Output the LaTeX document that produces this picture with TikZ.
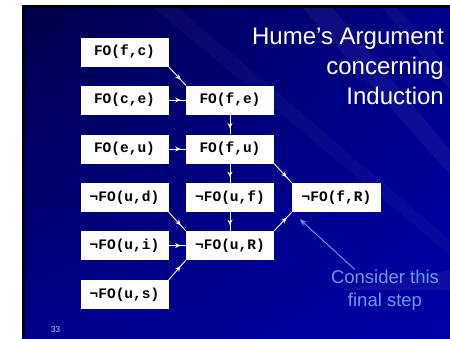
\documentclass[tikz,border=0pt]{standalone}
\usepackage{fontspec}
\setmainfont{Liberation Sans}
\setmonofont{Liberation Mono}
\usetikzlibrary{arrows.meta,decorations.markings,shadings}

\definecolor{bgdark}{HTML}{00004A}
\definecolor{bgmid}{HTML}{00008A}
\definecolor{bgblue}{HTML}{0000A6}
\definecolor{noteblue}{HTML}{6A9AF0}
\definecolor{numgray}{HTML}{C8C8D8}

\begin{document}
\begin{tikzpicture}[
  x=1pt, y=-1pt,
  >=Stealth,
  fobox/.style={rectangle, fill=white, minimum width=88pt, minimum height=29pt, inner sep=0pt,
    font=\ttfamily\bfseries\fontsize{14.5}{15}\selectfont},
  infer/.style={draw=white, line width=0.9pt, postaction={decorate},
    decoration={markings, mark=at position 0.7 with {\arrow{Stealth[length=5.5pt,width=5pt]}}}},
  note/.style={->, draw=noteblue, line width=0.9pt}
]
  \useasboundingbox (0,0) rectangle (450,338);
  % slide background
  \fill[white] (0,0) rectangle (450,338);
  \shade[upper left=bgdark, upper right=bgmid, lower left=bgmid, lower right=bgblue] (22,5) rectangle (450,338);
  \fill[white, opacity=0.05] (300,5) -- (330,5) -- (450,150) -- (450,175) -- cycle;
  \fill[white, opacity=0.04] (380,5) -- (395,5) -- (450,70) -- (450,90) -- cycle;
  \fill[white, opacity=0.05] (340,290) -- (450,270) -- (450,290) -- cycle;
  \fill[white, opacity=0.03] (150,5) -- (175,5) -- (450,240) -- (450,255) -- cycle;
  \fill[black] (22,5) rectangle (450,7.5);
  \fill[black!70!bgdark] (22,5) rectangle (24.5,338);

  \node[anchor=north east, align=right, inner sep=0pt, text=white,
    font=\fontsize{24}{30}\selectfont] (title) at (444,28) {Hume’s Argument\\concerning\\Induction};

  % left column
  \node[fobox] (fc) at (124.5,52) {FO(f,c)};
  \node[fobox] (ce) at (124.5,100) {FO(c,e)};
  \node[fobox] (eu) at (124.5,149) {FO(e,u)};
  \node[fobox] (ud) at (124.5,197.5) {¬FO(u,d)};
  \node[fobox] (ui) at (124.5,245.5) {¬FO(u,i)};
  \node[fobox] (us) at (124.5,294.5) {¬FO(u,s)};
  % middle column
  \node[fobox] (fe) at (230,100) {FO(f,e)};
  \node[fobox] (fu) at (230,149) {FO(f,u)};
  \node[fobox] (uf) at (230,197.5) {¬FO(u,f)};
  \node[fobox] (ur) at (230,245.5) {¬FO(u,R)};
  % right column
  \node[fobox, minimum width=89pt] (fr) at (336.5,197.5) {¬FO(f,R)};

  \draw[infer] (fc.south east) -- (fe.north west);
  \draw[infer] (ce.east) -- (fe.west);
  \draw[infer] (fe.south) -- (fu.north);
  \draw[infer] (eu.east) -- (fu.west);
  \draw[infer] (fu.south) -- (uf.north);
  \draw[infer] (uf.south) -- (ur.north);
  \draw[infer] (ud.south east) -- (ur.north west);
  \draw[infer] (ui.east) -- (ur.west);
  \draw[infer] (us.north east) -- (ur.south west);
  \draw[infer] (fu.south east) -- (fr.north west);
  \draw[infer] (ur.north east) -- (fr.south west);

  \node[anchor=north, align=center, inner sep=0pt, text=noteblue,
    font=\fontsize{18.5}{23}\selectfont] (cons) at (385,269.5) {Consider this\\final step};
  \draw[note] ([xshift=24pt]cons.north west) -- ([xshift=8pt,yshift=-7pt]fr.south west);

  \node[text=numgray, inner sep=0pt, font=\fontsize{8.5}{9}\selectfont] (num) at (55.5,329.5) {33};
\end{tikzpicture}
\end{document}
